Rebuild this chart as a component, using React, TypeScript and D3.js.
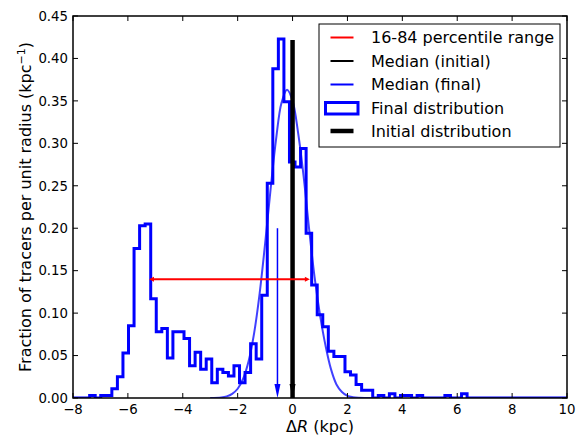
import React from 'react';
import * as d3 from 'd3';

// ---------- data ----------
const binStart = -8;
const binEnd = 10;
const finalHist = [
  0, 0, 0, 0.003, 0, 0.003, 0.003, 0.011, 0.025, 0.053,
  0.085, 0.176, 0.203, 0.205, 0.117, 0.078, 0.082, 0.047, 0.078, 0.078,
  0.070, 0.038, 0.054, 0.034, 0.046, 0.018, 0.034, 0.030, 0.026, 0.038,
  0.018, 0.030, 0.064, 0.046, 0.121, 0.253, 0.388, 0.423, 0.349, 0.278,
  0.272, 0.294, 0.194, 0.133, 0.098, 0.084, 0.055, 0.049, 0.049, 0.031,
  0.027, 0.016, 0.009, 0.009, 0, 0.003, 0, 0.005, 0, 0.003,
  0.003, 0, 0.003, 0, 0, 0, 0, 0.003, 0, 0,
  0.005, 0, 0, 0, 0, 0, 0, 0, 0, 0,
  0, 0, 0, 0, 0, 0, 0, 0, 0,
];

const curveX = [-3.0, -2.6, -2.4, -2.2, -2.0, -1.8, -1.6, -1.4, -1.2, -1.0, -0.8, -0.6, -0.4, -0.2, 0.0, 0.2, 0.4, 0.6, 0.8, 1.0, 1.2, 1.4, 1.6, 1.8, 2.0, 2.2, 2.4, 3.0];
const curveY = [0.0001, 0.0007, 0.0019, 0.0048, 0.0109, 0.0228, 0.0437, 0.0765, 0.123, 0.182, 0.246, 0.305, 0.348, 0.363, 0.350, 0.313, 0.262, 0.200, 0.143, 0.098, 0.062, 0.034, 0.016, 0.007, 0.0025, 0.001, 0.0004, 0.0001];

const initialPosition = 0;
const initialHeight = 0.4217;
const percentileRange = [-5.23, 0.63];
const percentileLevel = 0.14;
const medianInitial = 0;
const medianFinal = -0.55;
const medianArrowTop = 0.2;

const xTicks = [-8, -6, -4, -2, 0, 2, 4, 6, 8, 10];
const yTicks = [0, 0.05, 0.1, 0.15, 0.2, 0.25, 0.3, 0.35, 0.4, 0.45];
const legendLabels = [
  '16-84 percentile range',
  'Median (initial)',
  'Median (final)',
  'Final distribution',
  'Initial distribution',
];

// ---------- layout ----------
const W = 583;
const H = 440;
const L = 73;
const R = 567;
const T = 16;
const B = 398;
const FONT = 'DejaVu Sans, sans-serif';

export default function App() {
  const x = d3.scaleLinear().domain([-8, 10]).range([L, R]);
  const y = d3.scaleLinear().domain([0, 0.45]).range([B, T]);

  const n = finalHist.length;
  const width = (binEnd - binStart) / n;
  const pts: [number, number][] = [[binStart, 0]];
  finalHist.forEach((v, i) => {
    const e0 = binStart + i * width;
    const e1 = binStart + (i + 1) * width;
    pts.push([e0, v]);
    pts.push([e1, v]);
  });
  pts.push([binEnd, 0]);
  const histPath = d3.line<[number, number]>().x((d) => x(d[0])).y((d) => y(d[1]))(pts) || '';

  const curvePath =
    d3
      .line<number>()
      .x((_, i) => x(curveX[i]))
      .y((d) => y(d))
      .curve(d3.curveCatmullRom)(curveY) || '';

  const fmtX = (v: number) => (v < 0 ? '\u2212' + Math.abs(v) : String(v));
  const fmtY = d3.format('.2f');
  const tickLen = 5;

  const arrowDown = (xv: number, color: string) => {
    const px = x(xv);
    const top = y(medianArrowTop);
    const bot = y(0);
    const hl = 14;
    const hw = 3;
    return (
      <g>
        <line x1={px} x2={px} y1={top} y2={bot - hl} stroke={color} strokeWidth={1.5} />
        <path d={`M${px - hw},${bot - hl} L${px + hw},${bot - hl} L${px},${bot} Z`} fill={color} />
      </g>
    );
  };

  const rx0 = x(percentileRange[0]);
  const rx1 = x(percentileRange[1]);
  const ry = y(percentileLevel);

  const legX = 319;
  const legY = 24;
  const legW = 241;
  const legH = 123;
  const rowY = [37.5, 61, 84.5, 108, 131];
  const symX0 = 330.5;
  const symX1 = 353.5;
  const textX = 371;

  return (
    <svg width={W} height={H} style={{ position: 'absolute', left: 0, top: 0, background: '#fff' }} fontFamily={FONT}>
      <rect x={0} y={0} width={W} height={H} fill="#fff" />
      <defs>
        <clipPath id="plot">
          <rect x={L} y={T} width={R - L} height={B - T} />
        </clipPath>
      </defs>
      <g clipPath="url(#plot)">
        <path d={curvePath} fill="none" stroke="#0000ff" strokeOpacity={0.75} strokeWidth={2} />
        <path d={histPath} fill="none" stroke="#0000ff" strokeWidth={3} strokeLinejoin="miter" />
        {arrowDown(medianFinal, '#0000ff')}
        {arrowDown(medianInitial, '#000000')}
        <line
          x1={x(initialPosition)}
          x2={x(initialPosition)}
          y1={y(0)}
          y2={y(initialHeight)}
          stroke="#000"
          strokeWidth={4.5}
        />
        <line x1={rx0 + 4} x2={rx1 - 4} y1={ry} y2={ry} stroke="#ff0000" strokeWidth={2} />
        <path d={`M${rx0},${ry} L${rx0 + 5},${ry - 2.5} L${rx0 + 5},${ry + 2.5} Z`} fill="#ff0000" />
        <path d={`M${rx1},${ry} L${rx1 - 5},${ry - 2.5} L${rx1 - 5},${ry + 2.5} Z`} fill="#ff0000" />
      </g>

      {/* frame */}
      <rect x={L} y={T} width={R - L} height={B - T} fill="none" stroke="#000" strokeWidth={1.5} />

      {/* x ticks */}
      {xTicks.map((t) => (
        <g key={'x' + t}>
          <line x1={x(t)} x2={x(t)} y1={B} y2={B - tickLen} stroke="#000" strokeWidth={1} />
          <line x1={x(t)} x2={x(t)} y1={T} y2={T + tickLen} stroke="#000" strokeWidth={1} />
          <text x={x(t)} y={B + 16} textAnchor="middle" fontSize={13.3} fill="#000">
            {fmtX(t)}
          </text>
        </g>
      ))}
      {/* y ticks */}
      {yTicks.map((t) => (
        <g key={'y' + t}>
          <line x1={L} x2={L + tickLen} y1={y(t)} y2={y(t)} stroke="#000" strokeWidth={1} />
          <line x1={R} x2={R - tickLen} y1={y(t)} y2={y(t)} stroke="#000" strokeWidth={1} />
          <text x={L - 5} y={y(t) + 4.8} textAnchor="end" fontSize={13.3} fill="#000">
            {fmtY(t)}
          </text>
        </g>
      ))}

      {/* axis labels */}
      <text x={(L + R) / 2} y={432} textAnchor="middle" fontSize={16} fill="#000">
        {'\u0394'}
        <tspan fontStyle="italic">R</tspan>
        {' (kpc)'}
      </text>
      <text
        transform={`translate(31,${(T + B) / 2}) rotate(-90)`}
        textAnchor="middle"
        fontSize={16}
        fill="#000"
      >
        {'Fraction of tracers per unit radius (kpc'}
        <tspan fontSize={11} dy={-6}>{'\u22121'}</tspan>
        <tspan dy={6}>{')'}</tspan>
      </text>

      {/* legend */}
      <rect x={legX} y={legY} width={legW} height={legH} fill="#fff" stroke="#000" strokeWidth={1} />
      <line x1={symX0} x2={symX1} y1={rowY[0]} y2={rowY[0]} stroke="#ff0000" strokeWidth={2} />
      <line x1={symX0} x2={symX1} y1={rowY[1]} y2={rowY[1]} stroke="#000" strokeWidth={2} />
      <line x1={symX0} x2={symX1} y1={rowY[2]} y2={rowY[2]} stroke="#0000ff" strokeWidth={2} />
      <rect x={325.5} y={rowY[3] - 5.5} width={32.5} height={11.5} fill="none" stroke="#0000ff" strokeWidth={3} />
      <line x1={symX0} x2={symX1} y1={rowY[4]} y2={rowY[4]} stroke="#000" strokeWidth={4.5} />
      {legendLabels.map((lab, i) => (
        <text key={lab} x={textX} y={rowY[i] + 5.8} fontSize={16} fill="#000">
          {lab}
        </text>
      ))}
    </svg>
  );
}
